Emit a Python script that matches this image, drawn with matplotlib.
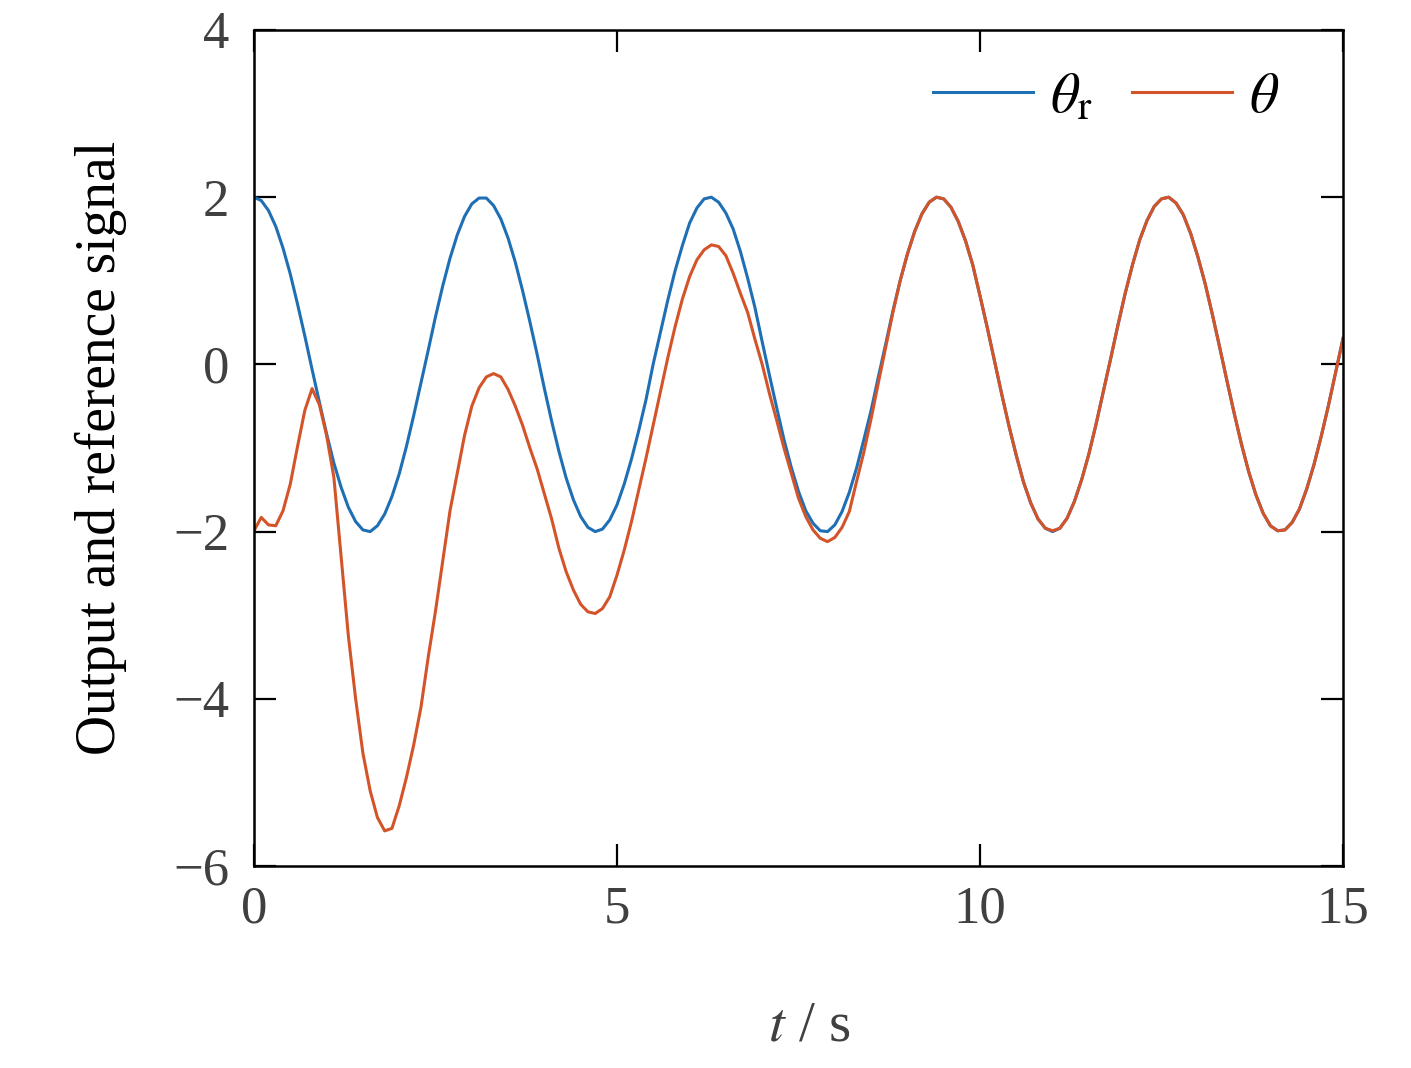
import numpy as np
import matplotlib.pyplot as plt

# time grid (s), 0.1 s step
t = np.round(np.arange(0, 15.01, 0.1), 2)

# reference signal theta_r
theta_r = [
    2.00, 1.96, 1.84, 1.65, 1.39, 1.08, 0.72, 0.34, -0.06, -0.45,
    -0.83, -1.18, -1.47, -1.71, -1.88, -1.98, -2.00, -1.93, -1.79, -1.58,
    -1.31, -0.98, -0.61, -0.22, 0.17, 0.57, 0.94, 1.27, 1.55, 1.77,
    1.92, 1.99, 1.99, 1.90, 1.74, 1.51, 1.22, 0.88, 0.51, 0.12,
    -0.29, -0.68, -1.04, -1.36, -1.62, -1.82, -1.95, -2.00, -1.97, -1.86,
    -1.68, -1.43, -1.13, -0.79, -0.42, 0.01, 0.39, 0.77, 1.12, 1.42,
    1.69, 1.87, 1.98, 2.00, 1.94, 1.81, 1.62, 1.35, 1.03, 0.68,
    0.27, -0.13, -0.52, -0.90, -1.23, -1.52, -1.75, -1.90, -1.99, -2.00,
    -1.92, -1.76, -1.53, -1.24, -0.90, -0.55, -0.15, 0.24, 0.64, 1.00,
    1.32, 1.59, 1.80, 1.94, 2.00, 1.98, 1.88, 1.71, 1.48, 1.19,
    0.82, 0.44, 0.04, -0.36, -0.74, -1.09, -1.41, -1.66, -1.85, -1.96,
    -2.00, -1.96, -1.84, -1.64, -1.38, -1.07, -0.71, -0.32, 0.07, 0.47,
    0.85, 1.19, 1.49, 1.72, 1.89, 1.98, 2.00, 1.93, 1.79, 1.57,
    1.29, 0.97, 0.60, 0.21, -0.19, -0.58, -0.95, -1.28, -1.56, -1.78,
    -1.93, -1.99, -1.98, -1.89, -1.73, -1.49, -1.20, -0.86, -0.49, -0.09,
    0.31,
]

# output theta
theta = [
    -1.99, -1.83, -1.92, -1.93, -1.75, -1.43, -0.98, -0.55, -0.29, -0.48,
    -0.85, -1.35, -2.30, -3.25, -4.00, -4.65, -5.10, -5.42, -5.58, -5.55,
    -5.28, -4.94, -4.55, -4.10, -3.50, -2.95, -2.35, -1.75, -1.30, -0.85,
    -0.50, -0.28, -0.15, -0.11, -0.15, -0.30, -0.50, -0.73, -1.00, -1.25,
    -1.55, -1.85, -2.20, -2.48, -2.70, -2.87, -2.96, -2.98, -2.92, -2.78,
    -2.52, -2.22, -1.88, -1.50, -1.12, -0.72, -0.32, 0.08, 0.45, 0.78,
    1.05, 1.25, 1.37, 1.43, 1.41, 1.30, 1.09, 0.85, 0.62, 0.30,
    0.00, -0.35, -0.67, -1.00, -1.30, -1.60, -1.82, -1.98, -2.08, -2.12,
    -2.07, -1.95, -1.76, -1.40, -1.05, -0.65, -0.22, 0.20, 0.62, 1.00,
    1.32, 1.59, 1.80, 1.94, 2.00, 1.98, 1.88, 1.71, 1.48, 1.19,
    0.82, 0.44, 0.04, -0.36, -0.74, -1.09, -1.41, -1.66, -1.85, -1.96,
    -1.99, -1.96, -1.84, -1.64, -1.38, -1.07, -0.71, -0.32, 0.07, 0.47,
    0.85, 1.19, 1.49, 1.72, 1.89, 1.98, 2.00, 1.93, 1.79, 1.57,
    1.29, 0.97, 0.60, 0.21, -0.19, -0.58, -0.95, -1.28, -1.56, -1.78,
    -1.93, -1.99, -1.98, -1.89, -1.73, -1.49, -1.20, -0.86, -0.49, -0.09,
    0.31,
]

xticks = [0, 5, 10, 15]
yticks = [-6, -4, -2, 0, 2, 4]

plt.rcParams['font.family'] = ['Liberation Serif', 'DejaVu Serif']
plt.rcParams['mathtext.fontset'] = 'stix'

fig = plt.figure(figsize=(14.11, 10.68), dpi=100)
ax = fig.add_axes([254 / 1411, 1 - 866 / 1068, (1343 - 254) / 1411, (866 - 30) / 1068])

ax.plot(t, theta_r, color='#1f6fb4', lw=2.2, label=r'$\theta_{\rm r}$')
ax.plot(t, theta, color='#d4542a', lw=2.2, label=r'$\theta$')

ax.set_xlim(0, 15)
ax.set_ylim(-6, 4)
ax.set_xticks(xticks)
ax.set_yticks(yticks)
ax.tick_params(direction='in', length=16, width=1.6, top=True, right=True,
               labelsize=38, labelcolor='#404040', pad=14)
ax.tick_params(axis='y', pad=18)
for s in ax.spines.values():
    s.set_linewidth(1.8)

ax.set_xlabel(r'$t$ / s', fontsize=41, color='#404040', labelpad=48)
ax.xaxis.label.set_x(0.51)
ax.set_ylabel('Output and reference signal', fontsize=40, labelpad=33)

ax.legend(loc='upper right', ncol=2, frameon=False, fontsize=41,
          handlelength=1.75, columnspacing=0.7, handletextpad=0.3,
          bbox_to_anchor=(0.978, 0.997), borderaxespad=0.3)

fig.savefig('out.png', dpi=100)
